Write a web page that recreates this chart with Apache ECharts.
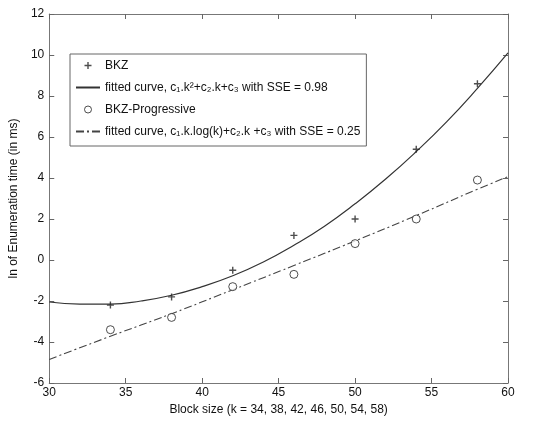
<!DOCTYPE html>
<html>
<head>
<meta charset="utf-8">
<script src="https://cdn.jsdelivr.net/npm/echarts@6/dist/echarts.min.js"></script>
<style>
  html, body { margin: 0; padding: 0; background: #fff; }
  #chart { width: 547px; height: 421px; }
</style>
</head>
<body>
<div id="chart"></div>
<script>
// block sizes tested
var blockSizes = [34, 38, 42, 46, 50, 54, 58];
var bkzValues = [-2.2, -1.8, -0.5, 1.2, 2.0, 5.4, 8.6];
var progValues = [-3.4, -2.8, -1.3, -0.7, 0.8, 2.0, 3.9];
// fitted curves
var fitX = [30, 32, 34, 36, 38, 40, 42, 44, 46, 48, 50, 52, 54, 56, 58, 60];
var fitBkz = [-2.05, -2.15, -2.15, -2.0, -1.72, -1.3, -0.77, -0.1, 0.72, 1.65, 2.74, 3.95, 5.29, 6.75, 8.37, 10.1];
var fitProgX = [30, 34, 38, 42, 46, 50, 54, 58, 60];
var fitProg = [-4.85, -3.72, -2.62, -1.45, -0.27, 0.93, 2.17, 3.45, 4.07];

var names = [
    'BKZ',
    'fitted curve, c\u2081.k\u00b2+c\u2082.k+c\u2083 with SSE = 0.98',
    'BKZ-Progressive',
    'fitted curve, c\u2081.k.log(k)+c\u2082.k +c\u2083 with SSE = 0.25'
];

function pairs(xs, ys) {
    return xs.map(function (x, i) { return [x, ys[i]]; });
}

var plus = 'path://M4,0 L6,0 L6,4 L10,4 L10,6 L6,6 L6,10 L4,10 L4,6 L0,6 L0,4 L4,4 Z';
var ink = '#222';
var font = '"Liberation Sans", Arial, sans-serif';

var chart = echarts.init(document.getElementById('chart'));

var tickStyle = { show: true, inside: true, length: 5, lineStyle: { color: '#666' } };
var boxLine = { show: true, onZero: false, lineStyle: { color: '#777' } };

var option = {
    animation: false,
    textStyle: { fontFamily: font },
    grid: { left: 45, right: 39, top: 14, bottom: 38 },
    legend: {
        orient: 'vertical',
        left: 70,
        top: 54,
        itemWidth: 24,
        itemHeight: 7,
        itemGap: 9,
        padding: [5, 6, 8, 5],
        borderColor: '#666',
        borderWidth: 1,
        backgroundColor: '#fff',
        textStyle: { fontSize: 12, color: '#111', fontFamily: font, lineHeight: 13 },
        data: [
            { name: names[0] },
            { name: names[1], itemStyle: { opacity: 0 } },
            { name: names[2], itemStyle: { borderWidth: 1 } },
            { name: names[3], itemStyle: { opacity: 0 } }
        ]
    },
    xAxis: [{
        type: 'value', min: 30, max: 60, interval: 5,
        axisLine: boxLine,
        axisTick: tickStyle,
        splitLine: { show: false },
        axisLabel: { fontSize: 12, color: '#111', margin: 4 },
        name: 'Block size (k = 34, 38, 42, 46, 50, 54, 58)',
        nameLocation: 'middle', nameGap: 18,
        nameTextStyle: { fontSize: 12, color: '#111' }
    }, {
        type: 'value', min: 30, max: 60, interval: 5, position: 'top',
        axisLine: boxLine,
        axisTick: tickStyle, axisLabel: { show: false }, splitLine: { show: false }
    }],
    yAxis: [{
        type: 'value', min: -6, max: 12, interval: 2,
        axisLine: boxLine,
        axisTick: tickStyle,
        splitLine: { show: false },
        axisLabel: { fontSize: 12, color: '#111', margin: 5 },
        name: 'ln of Enumeration time (in ms)',
        nameLocation: 'middle', nameGap: 27,
        nameTextStyle: { fontSize: 12, color: '#111' }
    }, {
        type: 'value', min: -6, max: 12, interval: 2, position: 'right',
        axisLine: boxLine,
        axisTick: tickStyle, axisLabel: { show: false }, splitLine: { show: false }
    }],
    series: [{
        name: names[0],
        type: 'scatter',
        symbol: plus,
        symbolSize: 7,
        itemStyle: { color: ink },
        data: pairs(blockSizes, bkzValues),
        z: 5
    }, {
        name: names[1],
        type: 'line',
        smooth: true,
        showSymbol: false,
        lineStyle: { color: '#333', width: 1.2 },
        itemStyle: { color: '#333' },
        data: pairs(fitX, fitBkz)
    }, {
        name: names[2],
        type: 'scatter',
        symbol: 'circle',
        symbolSize: 8,
        itemStyle: { color: '#fff', borderColor: ink, borderWidth: 1 },
        data: pairs(blockSizes, progValues),
        z: 5
    }, {
        name: names[3],
        type: 'line',
        smooth: true,
        showSymbol: false,
        lineStyle: { color: '#444', width: 1.1, type: [8, 3, 2, 3] },
        itemStyle: { color: '#444' },
        data: pairs(fitProgX, fitProg)
    }]
};

chart.setOption(option);
</script>
</body>
</html>
